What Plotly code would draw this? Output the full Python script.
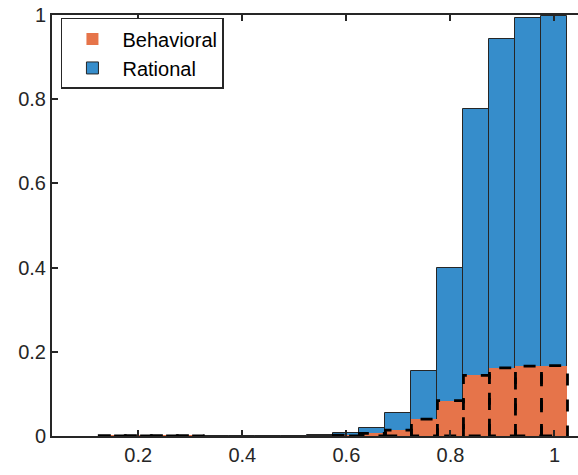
import plotly.graph_objects as go

bin_centers = [0.15, 0.20, 0.25, 0.30, 0.35, 0.40, 0.45, 0.50, 0.55,
               0.60, 0.65, 0.70, 0.75, 0.80, 0.85, 0.90, 0.95, 1.00]
bin_width = 0.05
rational = [0, 0, 0, 0, 0, 0, 0, 0, 0.002,
            0.008, 0.020, 0.054, 0.155, 0.400, 0.776, 0.944, 0.994, 0.997]
behavioral = [0.001, 0.001, 0.001, 0.001, None, None, None, None, None,
              0.002, 0.006, 0.014, 0.040, 0.084, 0.144, 0.162, 0.166, 0.167]

x_ticks = [0.2, 0.4, 0.6, 0.8, 1.0]
x_tick_labels = ["0.2", "0.4", "0.6", "0.8", "1"]
y_ticks = [0, 0.2, 0.4, 0.6, 0.8, 1.0]
y_tick_labels = ["0", "0.2", "0.4", "0.6", "0.8", "1"]

blue = "#368dcb"
orange = "#e6744a"
axis_col = "#262626"

fig = go.Figure()

bx = [c for c, v in zip(bin_centers, behavioral) if v is not None]
bv = [v for v in behavioral if v is not None]

fig.add_trace(go.Bar(
    x=bin_centers, y=rational, width=bin_width, name="Rational",
    marker=dict(color=blue, line=dict(color=axis_col, width=1)),
    legendrank=2,
))
fig.add_trace(go.Bar(
    x=bx, y=bv, width=bin_width, name="Behavioral",
    marker=dict(color=orange, line=dict(color="black", width=1.5)),
    legendrank=1,
))
# the bar fill is redrawn without solid outline; outline shown dashed below
fig.data[1].marker.line.width = 0

# dashed outlines of behavioral bars
ox, oy = [], []
for c, v in zip(bx, bv):
    x0, x1 = c - bin_width / 2, c + bin_width / 2
    ox += [x0, x0, x1, x1, x0, None]
    oy += [0, v, v, 0, 0, None]
fig.add_trace(go.Scatter(
    x=ox, y=oy, mode="lines", showlegend=False, hoverinfo="skip",
    line=dict(color="black", width=2.8, dash="12px,14px"),
))

fig.update_layout(
    width=578, height=475,
    barmode="overlay",
    bargap=0,
    plot_bgcolor="white", paper_bgcolor="white",
    margin=dict(l=52, r=0, t=15, b=39, autoexpand=False),
    font=dict(family="Arial, Liberation Sans, sans-serif", size=20, color=axis_col),
    showlegend=True,
    legend=dict(
        x=0.017, y=0.993, xanchor="left", yanchor="top",
        bordercolor=axis_col, borderwidth=1.5, bgcolor="white",
        font=dict(size=20, color="black"),
        traceorder="normal",
        tracegroupgap=0,
        itemwidth=50,
    ),
    xaxis=dict(
        range=[0.0342, 1.0452],
        tickvals=x_ticks, ticktext=x_tick_labels,
        ticks="inside", ticklen=6, tickwidth=1.5, tickcolor=axis_col,
        showline=True, linecolor=axis_col, linewidth=2, mirror="ticks",
        showgrid=False, zeroline=False,
        tickfont=dict(size=20, color=axis_col),
    ),
    yaxis=dict(
        range=[0, 1.0001],
        tickvals=y_ticks, ticktext=y_tick_labels,
        ticks="inside", ticklen=6, tickwidth=1.5, tickcolor=axis_col,
        showline=True, linecolor=axis_col, linewidth=2, mirror=False,
        showgrid=False, zeroline=False,
        tickfont=dict(size=20, color=axis_col),
    ),
)

fig.write_html(
    "out.html",
    config={"displayModeBar": False},
    post_script="document.body.style.margin='0px';document.body.style.overflow='hidden';",
)
